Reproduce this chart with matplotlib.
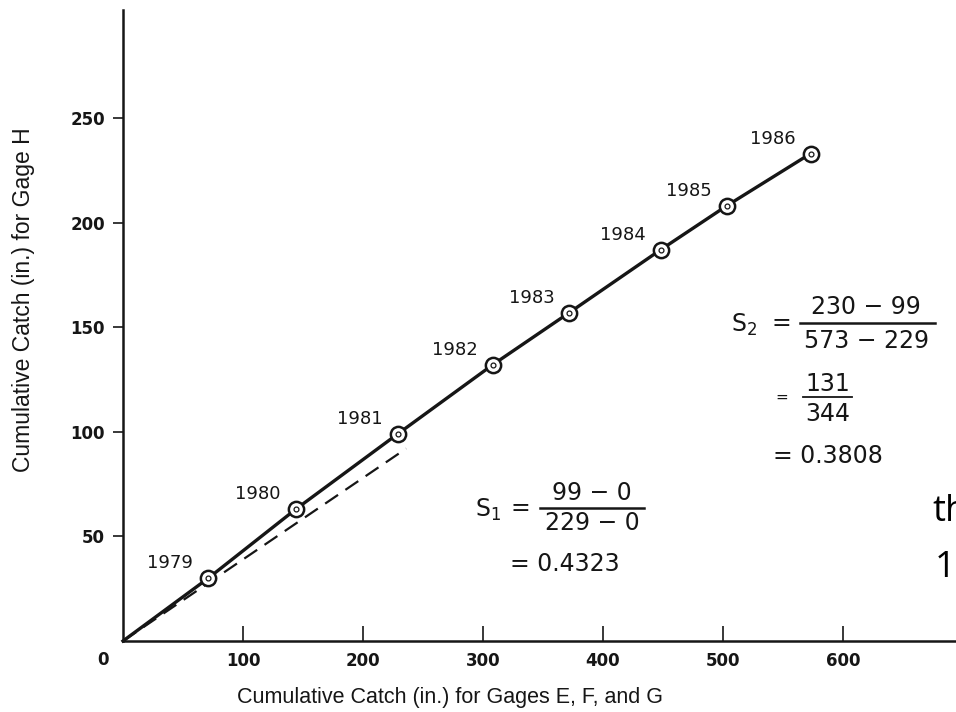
import matplotlib
matplotlib.use("Agg")
import matplotlib.pyplot as plt
from matplotlib.lines import Line2D

FIG_W, FIG_H = 956, 712  # pixels
DPI = 100

# cumulative catch
years = ["1979", "1980", "1981", "1982", "1983", "1984", "1985", "1986"]
catch_efg = [71, 144, 229, 308, 372, 448, 503, 573]
catch_h = [30, 63, 99, 132, 157, 187, 208, 233]

# dashed trend line for the early years
dash_x = [0, 236]
dash_y = [0, 92]

x_ticks = [100, 200, 300, 400, 500, 600]
y_ticks = [50, 100, 150, 200, 250]

INK = "#161616"
plt.rcParams["font.family"] = ["Liberation Sans", "DejaVu Sans"]


def px(x, y):
    #pixel position (from top-left) -> figure fraction
    return x / FIG_W, 1 - y / FIG_H


fig = plt.figure(figsize=(FIG_W / DPI, FIG_H / DPI), dpi=DPI)

#axes: origin at (123, 641) px, top of y axis at 10 px, x axis runs to the edge
x0, y0 = 123, 641
ax = fig.add_axes([x0 / FIG_W, 1 - y0 / FIG_H, (FIG_W - x0) / FIG_W, (y0 - 10) / FIG_H])
ax.set_xlim(0, (FIG_W - x0) / 1.2)
ax.set_ylim(0, (y0 - 10) / 2.092)

for side in ["top", "right"]:
    ax.spines[side].set_visible(False)
for side in ["left", "bottom"]:
    ax.spines[side].set_linewidth(1.8)
    ax.spines[side].set_color(INK)

ax.set_xticks(x_ticks)
ax.set_yticks(y_ticks)
ax.tick_params(axis="x", direction="in", length=11, width=1.2, colors=INK, pad=8)
ax.tick_params(axis="y", direction="out", length=7, width=1.2, colors=INK, pad=6)
for lab in ax.get_xticklabels() + ax.get_yticklabels():
    lab.set_family("DejaVu Sans")
    lab.set_fontweight("bold")
    lab.set_fontsize(12)
    lab.set_color(INK)

ax.set_xlabel("Cumulative Catch (in.) for Gages E, F, and G", fontsize=15.5, color=INK)
ax.set_ylabel("Cumulative Catch (in.) for Gage H", fontsize=16.5, color=INK)
#label anchors: top edge of the x label, right edge of the y label
ax.xaxis.set_label_coords((450 - x0) / (FIG_W - x0), (y0 - 687) / (y0 - 10))
ax.yaxis.set_label_coords((35 - x0) / (FIG_W - x0), (y0 - 300) / (y0 - 10))

fx, fy = px(103, 660)
fig.text(fx, fy, "0", fontsize=12, fontweight="bold", family="DejaVu Sans",
         color=INK, ha="center", va="center")

#curve through the origin and the yearly points
ax.plot([0] + catch_efg, [0] + catch_h, color=INK, lw=2.4, zorder=3, clip_on=False)
ax.plot(dash_x, dash_y, color=INK, lw=1.6, dashes=(7, 4), zorder=2)
ax.plot(catch_efg, catch_h, linestyle="none", marker="o", ms=11, mfc="white",
        mec=INK, mew=1.8, zorder=4, clip_on=False)
ax.plot(catch_efg, catch_h, linestyle="none", marker="o", ms=3.5, mfc="white",
        mec=INK, mew=0.9, zorder=5, clip_on=False)

for yr, xv, yv in zip(years, catch_efg, catch_h):
    ax.annotate(yr, (xv, yv), xytext=(-38, 15), textcoords="offset pixels",
                ha="center", va="center", fontsize=13, family="DejaVu Sans", color=INK)


def put(x, y, s, size=17, ha="center"):
    fx, fy = px(x, y)
    fig.text(fx, fy, s, fontsize=size, family="DejaVu Sans", color=INK, ha=ha, va="center")


def bar(xa, xb, y, lw=1.8):
    (fa, fy), (fb, _) = px(xa, y), px(xb, y)
    fig.add_artist(Line2D([fa, fb], [fy, fy], color=INK, lw=lw))


#slope S1
put(488, 510, r"S$_1$")
put(520, 508, "=")
put(592, 493, "99 \u2212 0")
bar(540, 644, 508)
put(592, 523, "229 \u2212 0")
put(565, 564, "= 0.4323")

#slope S2
put(744, 325, r"S$_2$")
put(781, 323, "=")
put(866, 307, "230 \u2212 99")
bar(800, 935, 323)
put(866, 341, "573 \u2212 229")
put(782, 397, "=", size=11)
put(828, 384, "131")
bar(803, 852, 397, lw=1.3)
put(828, 414, "344")
put(828, 456, "= 0.3808")

#cut-off slide text on the right edge
fx, fy = px(932, 512)
fig.text(fx, fy, "th", fontsize=26, family="Open Sans", color="black", ha="left", va="center")
fx, fy = px(935, 568)
fig.text(fx, fy, "1", fontsize=26, family="Open Sans", color="black", ha="left", va="center")

fig.savefig("out.png", dpi=DPI)
